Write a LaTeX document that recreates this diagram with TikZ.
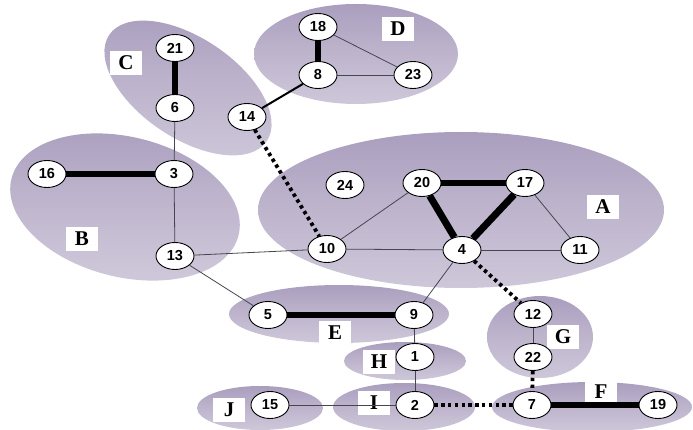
\documentclass[tikz,border=0pt]{standalone}
\usepackage{fontspec}
\setmainfont{Liberation Serif}
\setsansfont{Liberation Sans}
\usetikzlibrary{shapes.geometric}
\definecolor{grpdark}{RGB}{170,158,190}
\definecolor{grpmid}{RGB}{190,181,205}
\definecolor{grplight}{RGB}{206,199,217}
\definecolor{thinedge}{RGB}{70,70,80}
\tikzset{
  grp/.style={top color=grpdark, bottom color=grplight, middle color=grpmid},
  nd/.style={ellipse, draw=black, line width=0.9pt, fill=white, minimum width=38pt, minimum height=27pt, inner sep=0pt, font=\sffamily\bfseries\fontsize{14.5}{14.5}\selectfont},
  lbl/.style={rectangle, fill=white, minimum width=32pt, minimum height=24pt, inner sep=0pt, font=\rmfamily\bfseries\fontsize{21}{21}\selectfont},
  thin/.style={draw=thinedge, line width=0.8pt},
  mid/.style={draw=black, line width=2pt},
  heavy/.style={draw=black, line width=5.5pt},
  heavier/.style={draw=black, line width=7pt},
  dots/.style={draw=black, line width=3.8pt, line cap=butt, dash pattern=on 3.4pt off 3.4pt}
}
\begin{document}
\begin{tikzpicture}[x=1pt,y=-1pt]
\useasboundingbox (0,0) rectangle (693,430);
% groups
\begin{scope}[shift={(356,54)}]\shade[grp] (0,0) ellipse [x radius=102pt, y radius=50pt];\end{scope}
\begin{scope}[shift={(188,88)}, rotate=-34]\shade[grp] (0,0) ellipse [x radius=95pt, y radius=50pt];\end{scope}
\begin{scope}[shift={(125,207)}, rotate=-14]\shade[grp] (0,0) ellipse [x radius=117pt, y radius=70pt];\end{scope}
\begin{scope}[shift={(461,210)}]\shade[grp] (0,0) ellipse [x radius=203pt, y radius=78pt];\end{scope}
\begin{scope}[shift={(339,314)}]\shade[grp] (0,0) ellipse [x radius=110pt, y radius=29pt];\end{scope}
\begin{scope}[shift={(540,337)}]\shade[grp] (0,0) ellipse [x radius=53pt, y radius=41pt];\end{scope}
\begin{scope}[shift={(405,361)}]\shade[grp] (0,0) ellipse [x radius=61pt, y radius=19pt];\end{scope}
\begin{scope}[shift={(404,407)}]\shade[grp] (0,0) ellipse [x radius=71pt, y radius=24pt];\end{scope}
\begin{scope}[shift={(592,407)}]\shade[grp] (0,0) ellipse [x radius=100pt, y radius=25pt];\end{scope}
\begin{scope}[shift={(260,408)}]\shade[grp] (0,0) ellipse [x radius=63pt, y radius=22pt];\end{scope}
% labels
\node[lbl] (lC) at (126,63) {C};
\node[lbl] (lD) at (398,29) {D};
\node[lbl] (lA) at (603,207) {A};
\node[lbl] (lB) at (82,239) {B};
\node[lbl] (lE) at (335,333) {E};
\node[lbl] (lG) at (563,337) {G};
\node[lbl] (lH) at (379,362) {H};
\node[lbl] (lI) at (374,403) {I};
\node[lbl] (lF) at (601,392) {F};
\node[lbl] (lJ) at (229,410) {J};
% nodes
\node[nd] (n18) at (318,27) {18};
\node[nd] (n8) at (318,75) {8};
\node[nd] (n23) at (413,75) {23};
\node[nd] (n21) at (175,48) {21};
\node[nd] (n6) at (175,108) {6};
\node[nd] (n14) at (247,117) {14};
\node[nd] (n16) at (47,174) {16};
\node[nd] (n3) at (174,174) {3};
\node[nd] (n24) at (345,185) {24};
\node[nd] (n20) at (422,183) {20};
\node[nd] (n17) at (525,183) {17};
\node[nd] (n13) at (175,256) {13};
\node[nd] (n10) at (327,249) {10};
\node[nd] (n4) at (462,250) {4};
\node[nd] (n11) at (580,250) {11};
\node[nd] (n5) at (268,315) {5};
\node[nd] (n9) at (414,315) {9};
\node[nd] (n12) at (533,314) {12};
\node[nd] (n22) at (533,357) {22};
\node[nd] (n1) at (415,357) {1};
\node[nd] (n2) at (415,405) {2};
\node[nd] (n7) at (532,405) {7};
\node[nd] (n19) at (658,405) {19};
\node[nd] (n15) at (270,405) {15};
% edges
\path[thin] (n6) -- (n3);
\path[thin] (n3) -- (n13);
\path[thin] (n18) -- (n23);
\path[thin] (n8) -- (n23);
\path[thin] (n20) -- (n10);
\path[thin] (n17) -- (n11);
\path[thin] (n13) -- (n10);
\path[thin] (n10) -- (n4);
\path[thin] (n4) -- (n11);
\path[thin] (n13) -- (n5);
\path[thin] (n4) -- (n9);
\path[thin] (n9) -- (n1);
\path[thin] (n12) -- (n22);
\path[thin] (n1) -- (n2);
\path[thin] (n15) -- (n2);
\path[mid] (n14) -- (n8);
\path[heavy] (n21) -- (n6);
\path[heavy] (n16) -- (n3);
\path[heavy] (n18) -- (n8);
\path[heavy] (n20) -- (n17);
\path[heavier] (n20) -- (n4);
\path[heavier] (n17) -- (n4);
\path[heavy] (n5) -- (n9);
\path[heavy] (n7) -- (n19);
\path[dots] (n14) -- (n10);
\path[dots] (n4) -- (n12);
\path[dots] (n22) -- (n7);
\path[dots] (n2) -- (n7);
\end{tikzpicture}
\end{document}
